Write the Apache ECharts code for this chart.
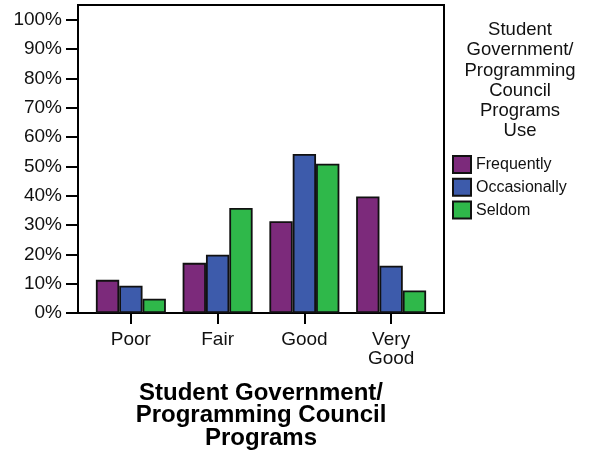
<!DOCTYPE html>
<html><head><meta charset="utf-8">
<script src="https://cdn.jsdelivr.net/npm/echarts@6/dist/echarts.min.js"></script>
<style>html,body{margin:0;padding:0;background:#fff}#c{width:592px;height:456px}</style>
</head><body><div id="c"></div>
<script>
var categories = ['Poor', 'Fair', 'Good', 'Very\nGood'];
var seriesNames = ['Frequently', 'Occasionally', 'Seldom'];
var frequently = [11.3, 17.1, 31.3, 39.7];
var occasionally = [9.3, 19.9, 54.2, 16.1];
var seldom = [4.9, 35.8, 50.9, 7.7];
var yTicks = [0, 10, 20, 30, 40, 50, 60, 70, 80, 90, 100];
var colors = ['#7c2a7b', '#3d5bab', '#2fb84a'];
var xTitle = 'Student Government/\nProgramming Council\nPrograms';
var legendTitle = 'Student\nGovernment/\nProgramming\nCouncil\nPrograms\nUse';

var FONT = '"Liberation Sans", Arial, sans-serif';
var chart = echarts.init(document.getElementById('c'), null, {renderer: 'canvas'});
var data = [frequently, occasionally, seldom];
chart.setOption({
  animation: false,
  backgroundColor: '#fff',
  color: colors,
  title: {
    text: legendTitle, left: 520, top: 20, textAlign: 'center', padding: 0,
    textStyle: {fontFamily: FONT, fontSize: 18.5, fontWeight: 'normal', color: '#111', lineHeight: 20.2, align: 'center'}
  },
  legend: {
    orient: 'vertical', left: 452, top: 155, padding: 0, itemWidth: 18, itemHeight: 17, itemGap: 3.8,
    icon: 'rect', data: seriesNames,
    textStyle: {fontFamily: FONT, fontSize: 16, color: '#111'}
  },
  grid: [
    {left: 78, top: 5, width: 366, height: 308, show: true, borderColor: '#000', borderWidth: 2, backgroundColor: 'transparent'},
    {left: 87.5, top: 5, width: 347, height: 308}
  ],
  xAxis: [
    {gridIndex: 0, type: 'value', show: false, min: 0, max: 1},
    {gridIndex: 1, type: 'category', data: categories,
     axisLine: {show: true, lineStyle: {color: '#000', width: 2}},
     axisTick: {show: true, alignWithLabel: true, length: 11, lineStyle: {color: '#000', width: 2}},
     axisLabel: {margin: 17, fontFamily: FONT, fontSize: 19, color: '#111', lineHeight: 19},
     name: xTitle, nameLocation: 'middle', nameGap: 69,
     nameTextStyle: {fontFamily: FONT, fontSize: 24, fontWeight: 'bold', color: '#000', lineHeight: 22.5, align: 'center'}
    }
  ],
  yAxis: [
    {gridIndex: 0, type: 'value', min: 0, max: 105, interval: 10,
     axisLine: {show: true, lineStyle: {color: '#000', width: 2}},
     axisTick: {show: true, length: 12, customValues: yTicks, lineStyle: {color: '#000', width: 2}},
     axisLabel: {margin: 16, customValues: yTicks, fontFamily: FONT, fontSize: 19, color: '#111',
       formatter: function (v) { return v + '%'; }},
     splitLine: {show: false}
    },
    {gridIndex: 1, type: 'value', min: 0, max: 105, show: false, splitLine: {show: false}}
  ],
  series: seriesNames.map(function (n, i) {
    return {
      name: n, type: 'bar', xAxisIndex: 1, yAxisIndex: 1, data: data[i],
      barGap: '0%', barCategoryGap: '19.3%',
      itemStyle: {color: colors[i], borderColor: '#111', borderWidth: 1.8}
    };
  })
});
</script></body></html>
